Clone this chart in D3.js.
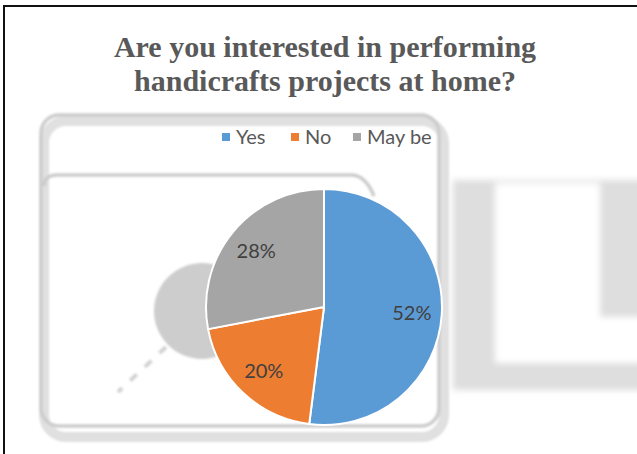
<!DOCTYPE html>
<html>
<head>
<meta charset="utf-8">
<script src="https://cdn.jsdelivr.net/npm/d3@7"></script>
<style>
  html, body { margin: 0; padding: 0; background: #fff; }
  svg { display: block; }
</style>
</head>
<body>
<svg id="chart" width="637" height="454"></svg>
<script>
// Survey answers and their shares (%)
const categories = ["Yes", "No", "May be"];
const shares = [52, 20, 28];
const sliceColors = ["#5B9BD5", "#ED7D31", "#A5A5A5"];
const titleLines = ["Are you interested in performing", "handicrafts projects at home?"];

const svg = d3.select("#chart");
const W = 637, H = 454;

const defs = svg.append("defs");
defs.append("filter").attr("id", "soft").attr("x", "-10%").attr("y", "-10%").attr("width", "120%").attr("height", "120%")
  .append("feGaussianBlur").attr("stdDeviation", 1.2);
defs.append("filter").attr("id", "softer").attr("x", "-10%").attr("y", "-10%").attr("width", "120%").attr("height", "120%")
  .append("feGaussianBlur").attr("stdDeviation", 3);

// Faint background graphic behind the chart
const bg = svg.append("g").attr("class", "backdrop");

const rightShape = bg.append("g").attr("filter", "url(#softer)");
rightShape.append("rect").attr("x", 453).attr("y", 180).attr("width", 200).attr("height", 210).attr("fill", "#dedede");
rightShape.append("rect").attr("x", 495).attr("y", 183).attr("width", 105).attr("height", 180).attr("fill", "#fff");
rightShape.append("path").attr("d", "M495,317 L545,317 L552,330 L576,363 L495,363 Z").attr("fill", "#fff");
rightShape.append("path").attr("d", "M553,317 L660,317 L660,363 L578,363 L560,338 Z").attr("fill", "#fff");

const frame = bg.append("g").attr("filter", "url(#soft)");
// shadow of the outer panel
frame.append("rect").attr("x", 44).attr("y", 121).attr("width", 400).attr("height", 316).attr("rx", 22)
  .attr("fill", "none").attr("stroke", "#e0e0e0").attr("stroke-width", 10);
frame.append("rect").attr("x", 41).attr("y", 115).attr("width", 398).attr("height", 311).attr("rx", 18)
  .attr("fill", "none").attr("stroke", "#cccccc").attr("stroke-width", 3.5);
frame.append("path").attr("d", "M44,186 Q44,175 58,175 L352,175 Q366,176 374,196")
  .attr("fill", "none").attr("stroke", "#cccccc").attr("stroke-width", 3.5);
frame.append("circle").attr("cx", 202).attr("cy", 311).attr("r", 48).attr("fill", "#cdcdcd");
frame.append("line").attr("x1", 166).attr("y1", 347).attr("x2", 118).attr("y2", 392)
  .attr("stroke", "#d2d2d2").attr("stroke-width", 4).attr("stroke-dasharray", "9,11");

// Page border
svg.append("path").attr("d", `M4,${H} L4,6 L${W},6`).attr("fill", "none").attr("stroke", "#111").attr("stroke-width", 2);

// Title
svg.append("g").selectAll("text").data(titleLines).join("text")
  .attr("x", 325).attr("y", (d, i) => 57 + i * 34)
  .attr("text-anchor", "middle")
  .attr("font-family", "'Liberation Serif', 'Times New Roman', serif")
  .attr("font-weight", "bold").attr("font-size", 30).attr("fill", "#595959")
  .text(d => d);

// Legend
const legendX = [222, 291, 353];
const legend = svg.append("g").attr("font-family", "Lato, 'Open Sans', sans-serif").attr("font-size", 20).attr("fill", "#595959");
const li = legend.selectAll("g").data(categories).join("g")
  .attr("transform", (d, i) => `translate(${legendX[i]},137)`);
li.append("rect").attr("x", 0).attr("y", -4).attr("width", 8).attr("height", 8).attr("fill", (d, i) => sliceColors[i]);
li.append("text").attr("x", 14).attr("dy", "0.35em").text(d => d);

// Pie
const cx = 324, cy = 307, R = 118;
const color = d3.scaleOrdinal().domain(categories).range(sliceColors);
const pie = d3.pie().sort(null).value(d => d.value);
const data = categories.map((c, i) => ({ name: c, value: shares[i] }));
const arcs = pie(data);
const arc = d3.arc().innerRadius(0).outerRadius(R);
const labelArc = d3.arc().innerRadius(88).outerRadius(88);

const g = svg.append("g").attr("transform", `translate(${cx},${cy})`);
g.selectAll("path").data(arcs).join("path")
  .attr("d", arc)
  .attr("fill", d => color(d.data.name))
  .attr("stroke", "#fff").attr("stroke-width", 2).attr("stroke-linejoin", "round");

g.selectAll("text").data(arcs).join("text")
  .attr("transform", d => `translate(${labelArc.centroid(d)})`)
  .attr("text-anchor", "middle").attr("dy", "0.35em")
  .attr("font-family", "Lato, 'Open Sans', sans-serif").attr("font-size", 20).attr("fill", "#404040")
  .text(d => d.data.value + "%");
</script>
</body>
</html>
